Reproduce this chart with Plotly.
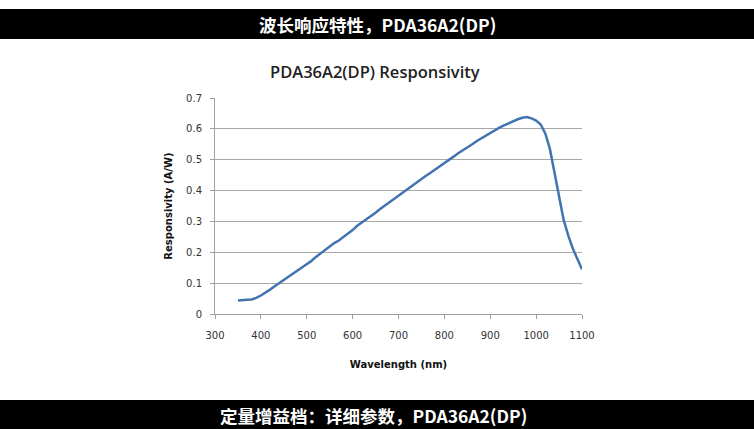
import plotly.graph_objects as go

# wavelength (nm) and responsivity (A/W)
wavelength = [350, 360, 370, 380, 390, 400, 410, 420, 430, 440, 450, 460, 470, 480, 490,
              500, 510, 520, 530, 540, 550, 560, 570, 580, 590, 600, 610, 620, 630, 640,
              650, 660, 670, 680, 690, 700, 710, 720, 730, 740, 750, 760, 770, 780, 790,
              800, 810, 820, 830, 840, 850, 860, 870, 880, 890, 900, 910, 920, 930, 940,
              950, 960, 970, 980, 990, 1000, 1010, 1020, 1030, 1040, 1050, 1055, 1060,
              1070, 1080, 1090, 1100]
responsivity = [0.044, 0.044, 0.046, 0.047, 0.052, 0.060, 0.069, 0.079, 0.090, 0.100,
                0.110, 0.121, 0.131, 0.141, 0.152, 0.162, 0.172, 0.185, 0.197, 0.207,
                0.218, 0.230, 0.238, 0.249, 0.261, 0.272, 0.286, 0.296, 0.308, 0.318,
                0.328, 0.340, 0.351, 0.362, 0.373, 0.384, 0.394, 0.405, 0.416, 0.428,
                0.437, 0.448, 0.458, 0.468, 0.478, 0.490, 0.500, 0.510, 0.521, 0.530,
                0.540, 0.549, 0.560, 0.569, 0.578, 0.587, 0.597, 0.604, 0.611, 0.618,
                0.624, 0.631, 0.636, 0.638, 0.634, 0.627, 0.614, 0.585, 0.535, 0.460,
                0.385, 0.340, 0.305, 0.255, 0.212, 0.178, 0.145]

x_ticks = [300, 400, 500, 600, 700, 800, 900, 1000, 1100]
y_ticks = [0, 0.1, 0.2, 0.3, 0.4, 0.5, 0.6, 0.7]
y_labels = ['0', '0.1', '0.2', '0.3', '0.4', '0.5', '0.6', '0.7']

header = '波长响应特性，PDA36A2(DP)'
footer = '定量增益档：详细参数，PDA36A2(DP)'
title = 'PDA36A2(DP) Responsivity'

tick_font = dict(family='DejaVu Sans', size=10, color='#333333')
title_font = dict(family='DejaVu Sans', size=10, color='#111111')

fig = go.Figure()
fig.add_trace(go.Scatter(x=wavelength, y=responsivity, mode='lines',
                         line=dict(color='#4274b0', width=2.5), showlegend=False))

# black bands top and bottom (paper coords relative to the plot area)
fig.add_shape(type='rect', xref='paper', yref='paper', x0=-0.6, x1=1.5, y0=1.273, y1=1.412,
              fillcolor='black', line_width=0, layer='above')
fig.add_shape(type='rect', xref='paper', yref='paper', x0=-0.6, x1=1.5, y0=-0.56, y1=-0.398,
              fillcolor='black', line_width=0, layer='above')

fig.add_annotation(text='<b>' + header + '</b>', xref='paper', yref='paper', x=0.442, y=1.338,
                   xanchor='center', yanchor='middle', showarrow=False,
                   font=dict(family='Noto Sans CJK SC', size=17.5, color='white'))
fig.add_annotation(text='<b>' + footer + '</b>', xref='paper', yref='paper', x=0.432, y=-0.468,
                   xanchor='center', yanchor='middle', showarrow=False,
                   font=dict(family='Noto Sans CJK SC', size=17.5, color='white'))
fig.add_annotation(text=title, xref='paper', yref='paper', x=0.436, y=1.125,
                   xanchor='center', yanchor='middle', showarrow=False,
                   font=dict(family='Open Sans', size=16.5, color='#222222', weight=600))

fig.update_xaxes(range=[300, 1100], tickvals=x_ticks, showgrid=False, zeroline=False,
                 showline=True, linecolor='#a0a0a0', linewidth=1,
                 ticks='outside', ticklen=4, tickcolor='#a0a0a0',
                 tickfont=tick_font, ticklabelstandoff=8,
                 title=dict(text='<b>Wavelength (nm)</b>', font=title_font, standoff=20))
fig.update_yaxes(range=[0, 0.7], tickvals=y_ticks, ticktext=y_labels, showgrid=True,
                 gridcolor='#a8a8a8', gridwidth=1, zeroline=False,
                 showline=True, linecolor='#a0a0a0', linewidth=1,
                 ticks='outside', ticklen=4, tickcolor='#a0a0a0',
                 tickfont=tick_font, ticklabelstandoff=6,
                 title=dict(text='<b>Responsivity (A/W)</b>', font=title_font, standoff=11))

fig.update_layout(width=754, height=429, margin=dict(l=215, r=172, t=98, b=115),
                  paper_bgcolor='white', plot_bgcolor='white')

fig.write_html('out.html', config={'displayModeBar': False},
               post_script="document.body.style.margin='0';")
